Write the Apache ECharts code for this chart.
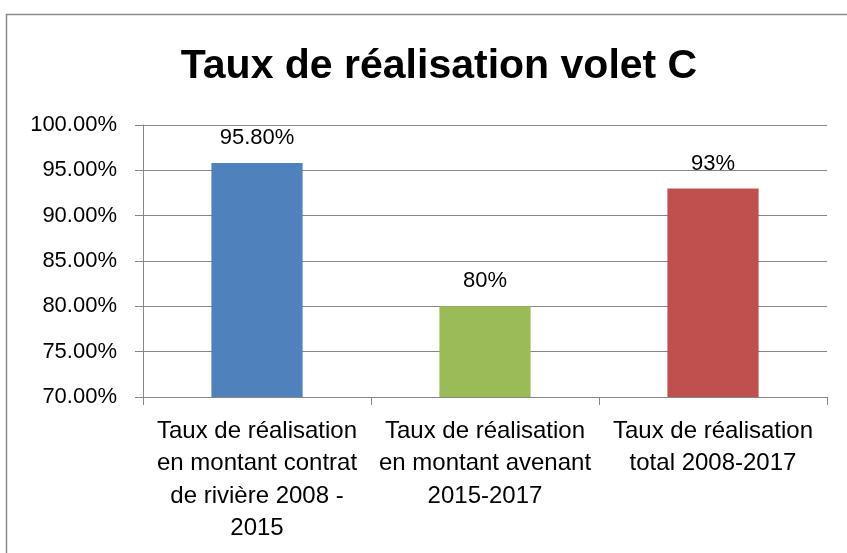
<!DOCTYPE html>
<html><head><meta charset="utf-8">
<script src="https://cdn.jsdelivr.net/npm/echarts@6/dist/echarts.min.js"></script>
<style>html,body{margin:0;padding:0;background:#fff}#c{width:847px;height:553px}</style>
</head><body><div id="c"></div>
<script>
const titleText = 'Taux de réalisation volet C';
const categories = [
  'Taux de réalisation\nen montant contrat\nde rivière 2008 -\n2015',
  'Taux de réalisation\nen montant avenant\n2015-2017',
  'Taux de réalisation\ntotal 2008-2017'
];
const values = [95.8, 80, 93];
const valueLabels = ['95.80%', '80%', '93%'];
const colors = ['#4F81BD', '#9BBB59', '#C0504D'];
const yMin = 70, yMax = 100, yStep = 5;

const FONT = '"Liberation Sans", Arial, sans-serif';
const chart = echarts.init(document.getElementById('c'));
chart.setOption({
  animation: false,
  backgroundColor: '#fff',
  graphic: [{
    type: 'rect', left: 4, top: 12, shape: {x: 0, y: 0, width: 900, height: 700},
    style: {fill: 'none', stroke: '#888', lineWidth: 1.5}, z: -1
  }],
  title: {
    text: titleText, left: 434, top: 41, textAlign: 'center',
    textStyle: {fontFamily: FONT, fontSize: 41, fontWeight: 'bold', color: '#000'}
  },
  grid: {left: 143, right: 20, top: 125, bottom: 156},
  xAxis: {
    type: 'category', data: categories,
    axisLine: {lineStyle: {color: '#868686', width: 1}},
    axisTick: {show: true, length: 8, lineStyle: {color: '#868686'}},
    axisLabel: {fontFamily: FONT, fontSize: 24, lineHeight: 32.5, color: '#000', margin: 18, interval: 0, align: 'center'}
  },
  yAxis: {
    type: 'value', min: yMin, max: yMax, interval: yStep,
    axisLine: {show: true, lineStyle: {color: '#868686', width: 1}},
    axisTick: {show: true, length: 8, lineStyle: {color: '#868686'}},
    splitLine: {lineStyle: {color: '#868686', width: 1}},
    axisLabel: {fontFamily: FONT, fontSize: 22, color: '#000', margin: 26, formatter: v => v.toFixed(2) + '%'}
  },
  series: [{
    type: 'bar', barWidth: '40%',
    data: values.map((v, i) => ({value: v, itemStyle: {color: colors[i]}})),
    label: {show: true, position: 'top', distance: 14, fontFamily: FONT, fontSize: 22, color: '#000',
      formatter: p => valueLabels[p.dataIndex]}
  }]
});
</script></body></html>
